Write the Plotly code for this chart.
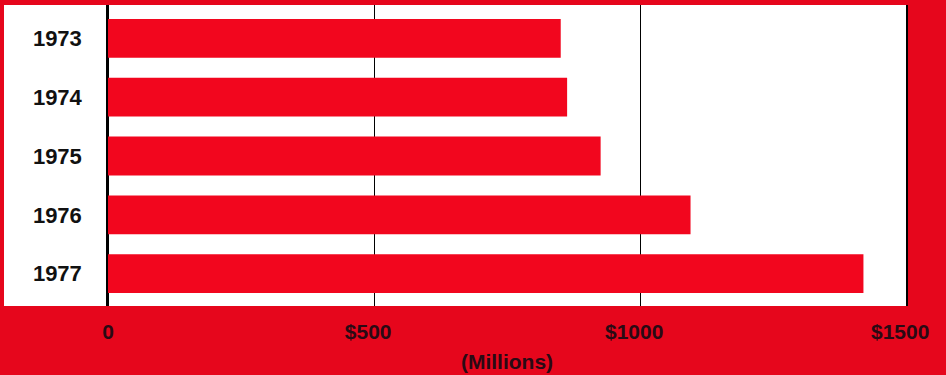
import plotly.graph_objects as go

# Annual amounts, in millions of dollars
years = ["1973", "1974", "1975", "1976", "1977"]
amounts = [851, 863, 926, 1095, 1420]

tick_values = [0, 500, 1000, 1500]
tick_labels = ["0", "$500\u2007", "$1000\u2007", "$1500\u2007"]

RED_BG = "#e6061c"
RED_BAR = "#f2061e"
INK = "#2a0a14"
FONT = "Liberation Sans, Arial, sans-serif"

fig = go.Figure(
    go.Bar(
        x=amounts,
        y=years,
        orientation="h",
        width=0.66,
        marker=dict(color=RED_BAR, line=dict(width=0)),
        hoverinfo="x+y",
    )
)

L, R, T, B = 108, 40, 5, 69
W, H = 946, 375
plot_w = W - L - R

fig.update_layout(
    width=W,
    height=H,
    margin=dict(l=L, r=R, t=T, b=B, pad=0),
    paper_bgcolor=RED_BG,
    plot_bgcolor="white",
    showlegend=False,
    font=dict(family=FONT, color=INK),
    xaxis=dict(
        range=[0, 1500],
        tickvals=tick_values,
        ticktext=tick_labels,
        tickfont=dict(size=21, family=FONT, color=INK, weight="bold"),
        ticks="",
        ticklabelstandoff=11,
        showgrid=True,
        gridcolor="black",
        gridwidth=1.3,
        zeroline=True,
        zerolinecolor="black",
        zerolinewidth=1.6,
        showline=False,
        title=dict(
            text="(Millions)",
            font=dict(size=21, family=FONT, color=INK, weight="bold"),
            standoff=12,
        ),
        fixedrange=True,
    ),
    yaxis=dict(
        type="category",
        categoryorder="array",
        categoryarray=years,
        range=[4.55, -0.566],
        tickfont=dict(size=22, family=FONT, color="#111111", weight="bold"),
        ticks="",
        ticklabelstandoff=20,
        showgrid=False,
        # vertical rules at both edges of the value range
        showline=True,
        linecolor="black",
        linewidth=1.5,
        mirror=True,
        fixedrange=True,
    ),
    shapes=[
        # white panel behind the year labels
        dict(
            type="rect",
            xref="paper",
            yref="paper",
            x0=(4 - L) / plot_w,
            x1=0,
            y0=0,
            y1=1,
            fillcolor="white",
            line=dict(width=0),
            layer="below",
        )
    ],
)

fig.write_html("out.html")
